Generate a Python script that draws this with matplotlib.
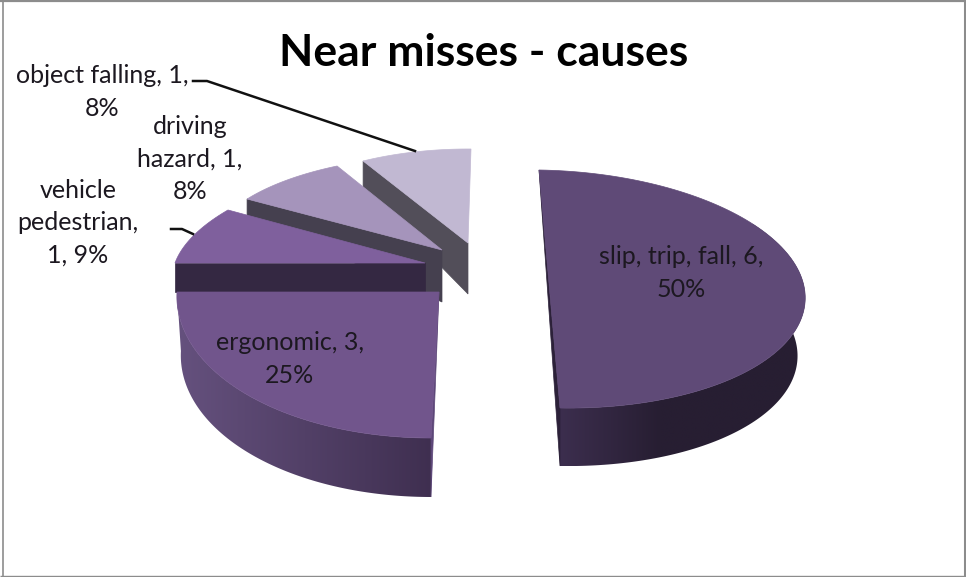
import numpy as np
import matplotlib
matplotlib.use("Agg")
import matplotlib.pyplot as plt
from matplotlib.colors import to_rgb
from matplotlib.patches import Polygon

# ---- data ----
categories = ["slip, trip, fall", "ergonomic", "vehicle pedestrian", "driving hazard", "object falling"]
counts = [6, 3, 1, 1, 1]
percents = [50, 25, 9, 8, 8]
title = "Near misses - causes"
label_texts = [
    "slip, trip, fall, 6,\n50%",
    "ergonomic, 3,\n25%",
    "vehicle\npedestrian,\n1, 9%",
    "driving\nhazard, 1,\n8%",
    "object falling, 1,\n8%",
]

# ---- styling / layout (pixel space of the 966x577 canvas) ----
top_colors = ["#5f4a77", "#71558c", "#7f609d", "#a594bb", "#c1b8d2"]
cut_colors = ["#2c2139", "#5d4778", "#342842", "#45404f", "#524e59"]
rim_left_right = [("#3c2e4e", "#271e32"), ("#65517e", "#3f2f50"), None, None, None]
rim_gradient_end = [660, 432, None, None, None]
rim_start_deg = [55, 180, None, None, None]
rim_x_scale = [0.97, 0.985, None, None, None]
apex = [(549.5, 289), (439, 292), (425, 263), (442, 250), (468, 243)]
u_axis = [(255.5, 4), (262, 0), (250, 0), (232.7, 4.3), (215, 1.2)]
v_axis = [(-10.5, -119), (8, -146), (39, -106), (13.2, -94.5), (3, -94)]
rim_depth = [58, 59, 29, 16, 26]
apex_depth = [58, 59, 29, 52, 51]
label_xy = [(681, 273), (290, 359), (78, 223), (190, 159), (102, 92)]
draw_order = [4, 3, 2, 0, 1]

fig = plt.figure(figsize=(9.66, 5.77), dpi=100)
ax = fig.add_axes([0, 0, 1, 1])
ax.set_xlim(0, 966)
ax.set_ylim(577, 0)
ax.axis("off")

# chart frame
frame = dict(color="#8c8c8c", zorder=0, solid_capstyle="butt")
ax.plot([3, 3], [0, 577], lw=1.2, **frame)
ax.plot([0, 966], [1, 1], lw=1.6, **frame)
ax.plot([0, 966], [576.4, 576.4], lw=1.0, **frame)
ax.plot([964.5, 964.5], [0, 577], lw=2.2, **frame)

fractions = np.array(counts) / np.sum(counts)
edges = np.concatenate([[0], np.cumsum(fractions)]) * 360.0


def project(i, theta_deg):
    t = np.radians(theta_deg)
    a, u, v = np.array(apex[i]), np.array(u_axis[i]), np.array(v_axis[i])
    return a + np.outer(np.sin(t), u) + np.outer(np.cos(t), v)


z = 1
for i in draw_order:
    th = np.linspace(edges[i], edges[i + 1], 121)
    arc = project(i, th)
    down_rim = np.array([0, rim_depth[i]])
    down_apex = np.array([0, apex_depth[i]])
    a = np.array(apex[i])

    # outer rim with a horizontal gradient, clipped to the rim outline
    if rim_left_right[i] is not None:
        rim_th = np.linspace(max(edges[i], rim_start_deg[i]), edges[i + 1], 121)
        rim_arc = project(i, rim_th)
        lower = rim_arc + down_rim
        lower[:, 0] = a[0] + (lower[:, 0] - a[0]) * rim_x_scale[i]
        outline = np.vstack([rim_arc, lower[::-1]])
        x0, x1 = outline[:, 0].min(), outline[:, 0].max()
        y0, y1 = outline[:, 1].min(), outline[:, 1].max()
        xs = np.linspace(x0, x1, 256)
        cl, cr = np.array(to_rgb(rim_left_right[i][0])), np.array(to_rgb(rim_left_right[i][1]))
        f = np.clip((xs - x0) / (rim_gradient_end[i] - x0), 0, 1)[:, None]
        grad = (cl + (cr - cl) * f)[None, :, :]
        im = ax.imshow(grad, extent=(x0, x1, y1, y0), aspect="auto", zorder=z, interpolation="bilinear")
        clip = Polygon(outline, closed=True, transform=ax.transData)
        im.set_clip_path(clip)
        ax.set_xlim(0, 966)
        ax.set_ylim(577, 0)
        z += 1

    # cut faces
    if i == 0:
        cut = [arc[0], arc[-1] + down_rim, arc[-1]]
    elif i == 1:
        cut = [a, arc[0] + down_rim, arc[0]]
    else:
        cut = [arc[0], arc[0] + down_rim, a + down_apex, a]
    ax.add_patch(Polygon(cut, closed=True, fc=cut_colors[i], ec=cut_colors[i], lw=0.5, zorder=z))
    z += 1

    # top face
    top = np.vstack([a, arc])
    ax.add_patch(Polygon(top, closed=True, fc=top_colors[i], ec=top_colors[i], lw=0.5, zorder=z))
    z += 1

ax.plot([193, 207, 415], [81, 81, 151], color="#111111", lw=1.8, zorder=z, solid_joinstyle="round")
ax.plot([171, 182, 193], [229, 229, 234], color="#111111", lw=1.8, zorder=z, solid_joinstyle="round")

for txt, (x, y) in zip(label_texts, label_xy):
    ax.text(x, y, txt, ha="center", va="center", family="Lato", fontsize=18, color="#1c1820",
            linespacing=1.48, zorder=z + 1)

ax.text(484, 53, title, ha="center", va="center", family="Lato", fontweight="bold",
        fontsize=32, color="black", zorder=z + 1)

fig.savefig("out.png", dpi=100, facecolor="white")
